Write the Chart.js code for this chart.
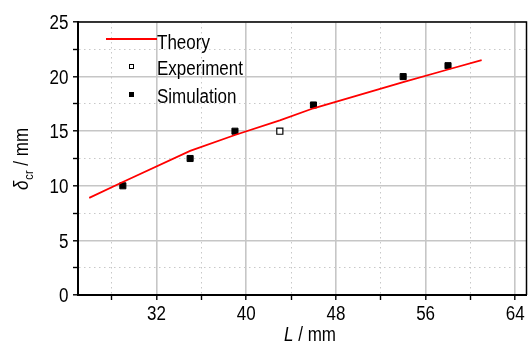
<!DOCTYPE html>
<html>
<head>
<meta charset="utf-8">
<script src="https://cdn.jsdelivr.net/npm/chart.js@4"></script>
<style>
  html, body { margin: 0; padding: 0; background: #fff; }
</style>
</head>
<body>
<canvas id="chart" width="532" height="344"></canvas>
<script>
// data
const theoryL = [26, 29, 35, 39, 43, 46, 54, 58, 61];
const theoryD = [8.9, 10.35, 13.2, 14.65, 16.0, 17.1, 19.5, 20.65, 21.5];

const expL = [43];
const expD = [15];

const simL = [29, 35, 39, 46, 54, 58];
const simD = [10, 12.5, 15, 17.4, 20, 21];

const xTicks = [28, 32, 36, 40, 44, 48, 52, 56, 60, 64];
const xLabels = [32, 40, 48, 56, 64];
const yTicks = [0, 2.5, 5, 7.5, 10, 12.5, 15, 17.5, 20, 22.5, 25];
const yLabels = [0, 5, 10, 15, 20, 25];

const FONT = "'Liberation Sans', Arial, sans-serif";
const SQUEEZE = 0.85; // the original uses a narrow face

function pts(xs, ys) {
  return xs.map((x, i) => ({ x: x, y: ys[i] }));
}

// text drawn horizontally squeezed, returns its drawn width
function narrowText(c, txt, x, y, font, align) {
  c.save();
  c.font = font;
  const w = c.measureText(txt).width * SQUEEZE;
  let left = x;
  if (align === 'right') left = x - w;
  if (align === 'center') left = x - w / 2;
  c.translate(left, y);
  c.scale(SQUEEZE, 1);
  c.textAlign = 'left';
  c.textBaseline = 'alphabetic';
  c.fillText(txt, 0, 0);
  c.restore();
  return w;
}

function widthOf(c, txt, font) {
  c.save();
  c.font = font;
  const w = c.measureText(txt).width * SQUEEZE;
  c.restore();
  return w;
}

function gridFor(labels) {
  const major = ctx => ctx.tick && labels.includes(ctx.tick.value);
  return {
    grid: {
      color: ctx => major(ctx) ? '#c6c6c6' : '#c8c8c8',
      lineWidth: ctx => major(ctx) ? 1.6 : 1,
      tickColor: '#000',
      tickLength: 5,
      tickWidth: 1.4,
      tickBorderDash: []
    },
    border: {
      display: true,
      color: '#000',
      width: 2,
      dash: ctx => (ctx.tick && !labels.includes(ctx.tick.value)) ? [1.5, 3.5] : []
    }
  };
}

const frameAndText = {
  id: 'frameAndText',
  afterDraw(chart) {
    const c = chart.ctx;
    const a = chart.chartArea;
    const xs = chart.scales.x;
    const ys = chart.scales.y;
    const big = '20px ' + FONT;
    const ital = 'italic 20px ' + FONT;
    const sub = '13px ' + FONT;

    c.save();
    // top and right frame
    c.strokeStyle = '#000';
    c.lineWidth = 1.5;
    c.beginPath();
    c.moveTo(a.left, a.top);
    c.lineTo(a.right, a.top);
    c.lineTo(a.right, a.bottom);
    c.stroke();

    c.fillStyle = '#000';
    // tick labels
    xLabels.forEach(v => narrowText(c, String(v), xs.getPixelForValue(v), 320, big, 'center'));
    yLabels.forEach(v => narrowText(c, String(v), 68.5, ys.getPixelForValue(v) + 7.2, big, 'right'));

    // legend
    c.strokeStyle = '#ff0000';
    c.lineWidth = 1.8;
    c.beginPath();
    c.moveTo(106, 39);
    c.lineTo(157, 39);
    c.stroke();
    narrowText(c, 'Theory', 157, 49, big, 'left');

    c.strokeStyle = '#000';
    c.lineWidth = 1;
    c.fillStyle = '#fff';
    c.fillRect(129.5, 64.5, 4, 4);
    c.strokeRect(129.5, 64.5, 4, 4);
    c.fillStyle = '#000';
    narrowText(c, 'Experiment', 157, 75, big, 'left');

    c.fillRect(129, 92, 5, 5);
    narrowText(c, 'Simulation', 157, 102.5, big, 'left');

    // x title
    const wL = widthOf(c, 'L', ital);
    const wR = widthOf(c, ' / mm', big);
    let x0 = 310 - (wL + wR) / 2;
    narrowText(c, 'L', x0, 341, ital, 'left');
    narrowText(c, ' / mm', x0 + wL, 341, big, 'left');

    // y title
    c.translate(28, 159);
    c.rotate(-Math.PI / 2);
    const wd = widthOf(c, 'δ', ital);
    const wc = widthOf(c, 'cr', sub);
    const wm = widthOf(c, ' / mm', big);
    x0 = -(wd + wc + 1 + wm) / 2;
    narrowText(c, 'δ', x0, 0, ital, 'left');
    narrowText(c, 'cr', x0 + wd + 1, 5, sub, 'left');
    narrowText(c, ' / mm', x0 + wd + 1 + wc, 0, big, 'left');
    c.restore();
  }
};

new Chart(document.getElementById('chart'), {
  type: 'scatter',
  data: {
    datasets: [
      {
        label: 'Theory',
        data: pts(theoryL, theoryD),
        showLine: true,
        borderColor: '#ff0000',
        borderWidth: 1.8,
        pointRadius: 0,
        tension: 0,
        fill: false
      },
      {
        label: 'Experiment',
        data: pts(expL, expD),
        pointStyle: 'rect',
        pointRadius: 4.3,
        backgroundColor: '#fff',
        borderColor: '#000',
        borderWidth: 1.2
      },
      {
        label: 'Simulation',
        data: pts(simL, simD),
        pointStyle: 'rect',
        pointRadius: 4.3,
        backgroundColor: '#000',
        borderColor: '#000',
        borderWidth: 1
      }
    ]
  },
  options: {
    responsive: false,
    animation: false,
    layout: { padding: { top: 22, right: 1.5, left: 0, bottom: 0 } },
    plugins: {
      legend: { display: false },
      tooltip: { enabled: false }
    },
    scales: {
      x: Object.assign({
        type: 'linear',
        min: 25,
        max: 65,
        afterBuildTicks: axis => { axis.ticks = xTicks.map(v => ({ value: v })); },
        afterFit: s => { s.height = 49; },
        ticks: {
          autoSkip: false,
          maxRotation: 0,
          font: { family: FONT, size: 20 },
          callback: () => ''
        }
      }, gridFor(xLabels)),
      y: Object.assign({
        type: 'linear',
        min: 0,
        max: 25,
        afterBuildTicks: axis => { axis.ticks = yTicks.map(v => ({ value: v })); },
        afterFit: s => { s.width = 78; },
        ticks: {
          autoSkip: false,
          font: { family: FONT, size: 20 },
          callback: () => ''
        }
      }, gridFor(yLabels))
    }
  },
  plugins: [frameAndText]
});
</script>
</body>
</html>
